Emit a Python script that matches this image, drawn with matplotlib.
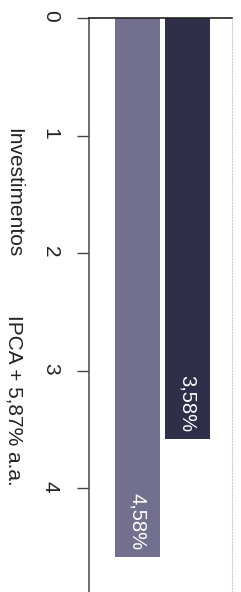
import matplotlib.pyplot as plt

plt.rcParams['font.family'] = ['Liberation Sans', 'DejaVu Sans']

# dados
categorias = ["IPCA + 5,87% a.a.", "Investimentos"]
valores = [4.58, 3.58]
cores = ["#72708e", "#302f49"]
ticks = [0, 1, 2, 3, 4]

fig = plt.figure(figsize=(2.41, 5.92), dpi=100)
ax = fig.add_axes([89 / 241, 0.0, 143 / 241, 1 - 18 / 592])

pos = list(range(len(categorias)))
ax.bar(pos, valores, width=0.9, color=cores, edgecolor='none')

ax.set_xlim(-0.97, 1.89)
ax.set_ylim(4.88, 0)
ax.set_yticks(ticks)
ax.set_yticklabels([str(t) for t in ticks])
ax.set_xticks([])

ax.tick_params(axis='y', direction='out', length=9, width=1, color='#444444',
               pad=12, labelsize=15, labelcolor='#222222', labelrotation=270)

ax.spines['top'].set_color('#222222')
ax.spines['top'].set_linewidth(1.2)
ax.spines['left'].set_color('#555555')
ax.spines['left'].set_linewidth(1.2)
ax.spines['right'].set_color('#cccccc')
ax.spines['right'].set_linestyle(':')
ax.spines['bottom'].set_visible(False)

# rótulos das barras
for p, v in zip(pos, valores):
    ax.text(p, v - 0.30, f"{v:.2f}%".replace('.', ','), rotation=270,
            ha='center', va='center', color='white', fontsize=14.5)

# legenda (texto)
leg_y = [0.323, 0.674]
for cat, y in zip(categorias, leg_y):
    fig.text(14 / 241, y, cat, rotation=270, ha='center', va='center',
             fontsize=15, color='#222222')

fig.savefig('out.png', dpi=100)
